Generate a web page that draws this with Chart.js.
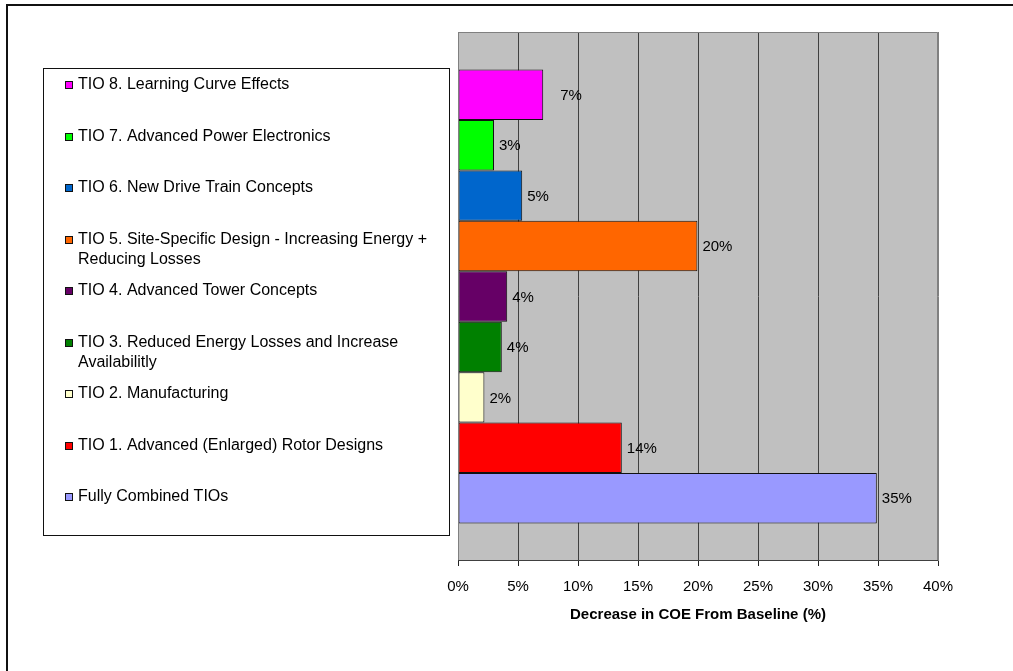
<!DOCTYPE html>
<html>
<head>
<meta charset="utf-8">
<script src="https://cdn.jsdelivr.net/npm/chart.js@4/dist/chart.umd.min.js"></script>
<style>
  html, body { margin: 0; padding: 0; background: #ffffff; }
  #wrap { width: 1013px; height: 671px; position: relative; }
</style>
</head>
<body>
<div id="wrap"><canvas id="c"></canvas></div>
<script>
// ---- data ----
const categories = [''];
const seriesLabels = [
  'TIO 8. Learning Curve Effects',
  'TIO 7. Advanced Power Electronics',
  'TIO 6. New Drive Train Concepts',
  'TIO 5. Site-Specific Design - Increasing Energy + Reducing Losses',
  'TIO 4. Advanced Tower Concepts',
  'TIO 3. Reduced Energy Losses and Increase Availabilitly',
  'TIO 2. Manufacturing',
  'TIO 1. Advanced (Enlarged) Rotor Designs',
  'Fully Combined TIOs'
];
const seriesValues = [7.1, 3.0, 5.35, 19.95, 4.1, 3.65, 2.2, 13.65, 34.9];
const tickValues = [0, 5, 10, 15, 20, 25, 30, 35, 40];
const axisTitle = 'Decrease in COE From Baseline (%)';

// ---- styles ----
const palette = ['#FF00FF', '#00FF00', '#0066CC', '#FF6600', '#660066', '#008000', '#FFFFCC', '#FF0000', '#9999FF'];
const FONT = "'Liberation Sans', Arial, sans-serif";
Chart.defaults.font.family = FONT;
Chart.defaults.color = '#000';

const datasets = seriesLabels.map((lab, i) => ({
  label: lab,
  data: [seriesValues[i]],
  backgroundColor: palette[i],
  borderColor: '#111',
  borderWidth: 1,
  borderSkipped: false,
  categoryPercentage: 0.858,
  barPercentage: 1.0
}));

const framePlugin = {
  id: 'frame',
  beforeDraw(chart) {
    const {ctx, chartArea: a} = chart;
    ctx.save();
    ctx.fillStyle = '#fff';
    ctx.fillRect(0, 0, chart.width, chart.height);
    ctx.fillStyle = '#C0C0C0';
    ctx.fillRect(a.left, a.top, a.right - a.left, a.bottom - a.top);
    // outer border (left + top visible)
    ctx.strokeStyle = '#111';
    ctx.lineWidth = 2;
    ctx.strokeRect(7, 5, chart.width + 20, chart.height + 20);
    ctx.restore();
  },
  afterDatasetsDraw(chart) {
    const {ctx, chartArea: a} = chart;
    ctx.save();
    ctx.strokeStyle = '#808080';
    ctx.lineWidth = 1;
    ctx.beginPath();
    ctx.moveTo(a.left + 0.5, a.bottom);
    ctx.lineTo(a.left + 0.5, a.top + 0.5);
    ctx.lineTo(a.right - 0.5, a.top + 0.5);
    ctx.lineTo(a.right - 0.5, a.bottom);
    ctx.stroke();
    ctx.strokeStyle = '#404040';
    ctx.beginPath();
    ctx.moveTo(a.left, a.bottom - 0.5);
    ctx.lineTo(a.right, a.bottom - 0.5);
    ctx.stroke();

    // value labels
    ctx.font = '15px ' + FONT;
    ctx.fillStyle = '#000';
    ctx.textAlign = 'left';
    ctx.textBaseline = 'middle';
    chart.data.datasets.forEach((ds, i) => {
      const el = chart.getDatasetMeta(i).data[0];
      const extra = i === 0 ? 12 : 0;
      ctx.fillText(Math.round(ds.data[0]) + '%', el.x + 5 + extra, el.y + 1);
    });
    ctx.restore();
  },
  afterDraw(chart) {
    // legend box
    const {ctx} = chart;
    ctx.save();
    const bx = 43, by = 68, bw = 406, bh = 467;
    ctx.fillStyle = '#fff';
    ctx.fillRect(bx, by, bw, bh);
    ctx.strokeStyle = '#111';
    ctx.lineWidth = 1;
    ctx.strokeRect(bx + 0.5, by + 0.5, bw, bh);
    ctx.font = '16px ' + FONT;
    ctx.textBaseline = 'middle';
    ctx.textAlign = 'left';
    const maxW = 362;
    chart.data.datasets.forEach((ds, i) => {
      const y0 = 85 + i * 51.5;
      // marker
      ctx.fillStyle = ds.backgroundColor;
      ctx.fillRect(65, Math.round(y0 - 4), 8, 8);
      ctx.strokeStyle = '#111';
      ctx.strokeRect(65.5, Math.round(y0 - 4) + 0.5, 7, 7);
      // wrapped text
      const words = ds.label.split(' ');
      const lines = [];
      let cur = '';
      words.forEach(w => {
        const t = cur ? cur + ' ' + w : w;
        if (ctx.measureText(t).width > maxW && cur) { lines.push(cur); cur = w; }
        else cur = t;
      });
      lines.push(cur);
      ctx.fillStyle = '#000';
      lines.forEach((ln, k) => ctx.fillText(ln, 78, y0 + k * 20));
    });
    ctx.restore();
  }
};

new Chart(document.getElementById('c'), {
  type: 'bar',
  data: { labels: categories, datasets },
  plugins: [framePlugin],
  options: {
    indexAxis: 'y',
    responsive: true,
    maintainAspectRatio: false,
    animation: false,
    layout: { padding: { left: 458, right: 75, top: 32, bottom: 0 } },
    plugins: { legend: { display: false }, tooltip: { enabled: false } },
    scales: {
      y: { type: 'category', display: false, offset: true },
      x: {
        type: 'linear',
        min: 0,
        max: 40,
        afterBuildTicks: (scale) => { scale.ticks = tickValues.map(v => ({ value: v })); },
        afterFit: (scale) => { scale.height = 110; },
        grid: {
          color: (c) => (c.index === 0 || c.index === tickValues.length - 1) ? '#808080' : '#404040',
          tickColor: '#222',
          tickLength: 5,
          lineWidth: 1
        },
        border: { display: false },
        ticks: {
          font: { size: 15 },
          color: '#000',
          padding: 12,
          maxRotation: 0,
          callback: (v) => v + '%'
        },
        title: {
          display: true,
          text: axisTitle,
          font: { size: 15, weight: 'bold' },
          color: '#000',
          padding: { top: 0, bottom: 47 }
        }
      }
    }
  }
});
</script>
</body>
</html>
